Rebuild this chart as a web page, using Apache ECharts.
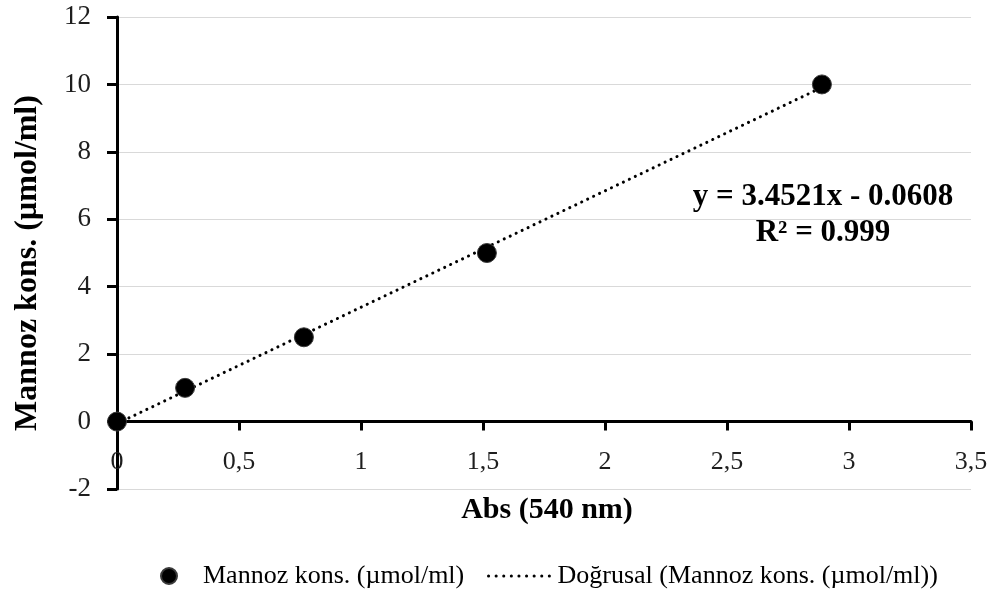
<!DOCTYPE html>
<html>
<head>
<meta charset="utf-8">
<script src="https://cdn.jsdelivr.net/npm/echarts@6/dist/echarts.min.js"></script>
<style>
  html, body { margin: 0; padding: 0; background: #fff; }
  #chart { width: 998px; height: 594px; }
</style>
</head>
<body>
<div id="chart"></div>
<script>
// ölçüm noktaları (Abs, konsantrasyon)
var absValues = [0, 0.279, 0.766, 1.516, 2.889];
var concValues = [0, 1, 2.5, 5, 10];
// doğrusal eğilim çizgisinin uç noktaları
var trendX = [0, 2.889];
var trendY = [-0.0608, 9.912];
var yTicks = [-2, 0, 2, 4, 6, 8, 10, 12];
var xTicks = [0, 0.5, 1, 1.5, 2, 2.5, 3, 3.5];

var seriesName = 'Mannoz kons. (µmol/ml)';
var trendName = 'Doğrusal (Mannoz kons. (µmol/ml))';
var font = '"Liberation Serif", "Times New Roman", serif';

var chart = echarts.init(document.getElementById('chart'));

var option = {
    animation: false,
    textStyle: { fontFamily: font },
    grid: { left: 117, right: 27, top: 17, bottom: 105 },
    xAxis: {
        type: 'value',
        min: xTicks[0],
        max: xTicks[xTicks.length - 1],
        interval: 0.5,
        axisLine: { onZero: true, lineStyle: { color: '#000', width: 3 } },
        axisTick: { show: true, length: 9, lineStyle: { color: '#000', width: 3 } },
        axisLabel: {
            margin: -40,
            fontSize: 26,
            color: '#1e1e1e',
            fontFamily: font,
            showMinLabel: true,
            showMaxLabel: true,
            formatter: function (v) { return String(v).replace('.', ','); }
        },
        splitLine: { show: false }
    },
    yAxis: {
        type: 'value',
        min: yTicks[0],
        max: yTicks[yTicks.length - 1],
        interval: 2,
        axisLine: { show: true, onZero: false, lineStyle: { color: '#000', width: 3 } },
        axisTick: { show: true, length: 10, lineStyle: { color: '#000', width: 3 } },
        axisLabel: { margin: 26, fontSize: 27, color: '#1e1e1e', fontFamily: font },
        splitLine: { show: true, lineStyle: { color: '#d9d9d9', width: 1 } }
    },
    legend: [
        {
            data: [seriesName],
            left: 160,
            top: 563,
            padding: 0,
            itemWidth: 16,
            itemHeight: 16,
            textStyle: { fontSize: 26, color: '#000', fontFamily: font, padding: [0, 0, 0, 21] }
        },
        {
            data: [trendName],
            left: 487,
            top: 563,
            padding: 0,
            itemWidth: 64,
            itemHeight: 16,
            itemStyle: { color: 'rgba(0,0,0,0)', borderColor: 'rgba(0,0,0,0)', borderWidth: 0 },
            lineStyle: { color: '#000', width: 3, type: [0.1, 7.5], cap: 'round' },
            textStyle: { fontSize: 26, color: '#000', fontFamily: font }
        }
    ],
    graphic: [
        {
            type: 'text',
            x: 28, y: 263,
            rotation: Math.PI / 2,
            style: {
                text: 'Mannoz kons. (µmol/ml)',
                font: 'bold 32px ' + font,
                fill: '#000',
                align: 'center',
                verticalAlign: 'middle'
            }
        },
        {
            type: 'text',
            x: 547, y: 510,
            style: {
                text: 'Abs (540 nm)',
                font: 'bold 30px ' + font,
                fill: '#000',
                align: 'center',
                verticalAlign: 'middle'
            }
        },
        {
            type: 'text',
            x: 823, y: 197,
            style: {
                text: 'y = 3.4521x - 0.0608',
                font: 'bold 31px ' + font,
                fill: '#000',
                align: 'center',
                verticalAlign: 'middle'
            }
        },
        {
            type: 'text',
            x: 823, y: 233,
            style: {
                text: 'R² = 0.999',
                font: 'bold 31px ' + font,
                fill: '#000',
                align: 'center',
                verticalAlign: 'middle'
            }
        }
    ],
    series: [
        {
            name: trendName,
            type: 'line',
            data: trendX.map(function (x, i) { return [x, trendY[i]]; }),
            symbol: 'none',
            lineStyle: { color: '#000', width: 3, type: [0.1, 6.5], cap: 'round' },
            itemStyle: { color: '#000' },
            z: 2
        },
        {
            name: seriesName,
            type: 'scatter',
            data: absValues.map(function (x, i) { return [x, concValues[i]]; }),
            symbol: 'circle',
            symbolSize: 19,
            itemStyle: { color: '#000', borderColor: '#3a3a3a', borderWidth: 1, opacity: 1 },
            z: 3
        }
    ]
};

chart.setOption(option);
</script>
</body>
</html>
